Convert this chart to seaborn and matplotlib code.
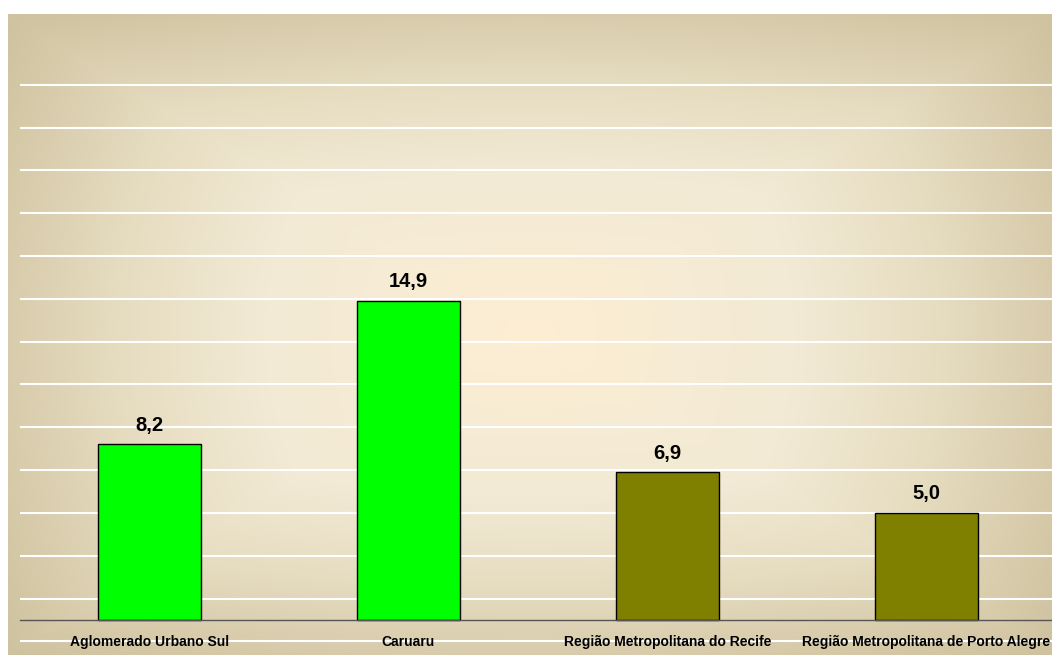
import numpy as np
import pandas as pd
import matplotlib
matplotlib.use("Agg")
import matplotlib.pyplot as plt
import seaborn as sns
from matplotlib.colors import LinearSegmentedColormap

categories = ["Aglomerado Urbano Sul", "Caruaru", "Região Metropolitana do Recife",
              "Região Metropolitana de Porto Alegre"]
values = [8.2, 14.9, 6.9, 5.0]
bar_colors = ["#00FF00", "#00FF00", "#808000", "#808000"]
value_labels = ["8,2", "14,9", "6,9", "5,0"]

sns.set_theme(style="white")
plt.rcParams['font.family'] = ['Liberation Sans', 'DejaVu Sans']

W, H = 1052, 655
fig = plt.figure(figsize=(W / 100, H / 100), dpi=100)
fig.patch.set_facecolor("white")

# background gradient panel
bx0, by0 = 8, 14
bg = fig.add_axes([bx0 / W, 0, 1 - bx0 / W, (H - by0) / H])
bg.set_axis_off()
ny, nx = 300, 500
yy, xx = np.mgrid[-1:1:ny * 1j, -1:1:nx * 1j]
d = np.maximum(np.abs(xx), np.abs(yy)) * 0.6 + np.sqrt(xx ** 2 + yy ** 2) / np.sqrt(2) * 0.4
cmap = LinearSegmentedColormap.from_list(
    "parch", [(0.0, "#FDEED3"), (0.45, "#F2EAD5"), (0.7, "#E6DCC0"), (1.0, "#CFC29F")])
bg.imshow(d, cmap=cmap, aspect="auto", extent=[0, 1, 0, 1], vmin=0, vmax=1,
          interpolation="bilinear")
bg.set_xlim(0, 1)
bg.set_ylim(0, 1)

# main axes
px = 21.41
base = 620
ax = fig.add_axes([20 / W, 0, 1036 / W, 1])
ax.patch.set_alpha(0)
df = pd.DataFrame({"cat": categories, "val": values})
sns.barplot(data=df, x="cat", y="val", hue="cat", palette=bar_colors, width=0.4,
            saturation=1, edgecolor="black", linewidth=1.0, legend=False, ax=ax, zorder=3)
ax.set_xlim(-0.5, 3.5)
ax.set_ylim(-(H - base) / px, base / px)
ax.set_yticks(np.arange(-1, 26, 2))
ax.set_yticklabels([])
ax.tick_params(axis="y", length=0)
ax.grid(axis="y", color="white", linewidth=1.5, zorder=0)
ax.set_axisbelow(True)
for s in ["left", "right", "top"]:
    ax.spines[s].set_visible(False)
ax.spines["bottom"].set_position(("data", 0))
ax.spines["bottom"].set_color("#555555")
ax.spines["bottom"].set_linewidth(1.0)
ax.spines["bottom"].set_zorder(4)
ax.set_xticks(np.arange(-0.5, 4, 1), minor=True)
ax.tick_params(axis="x", which="minor", length=4, direction="out", color="#555555", width=1)
ax.tick_params(axis="x", which="major", length=0, pad=11)
ax.set_xticks(range(len(categories)))
ax.set_xticklabels(categories, fontsize=10, fontweight="bold", color="black")
ax.xaxis.set_zorder(5)
ax.set_xlabel("")
ax.set_ylabel("")

bars = [p for c in ax.containers for p in c]
bars.sort(key=lambda p: p.get_x())
for p, lab in zip(bars, value_labels):
    ax.annotate(lab, (p.get_x() + p.get_width() / 2, p.get_height()),
                xytext=(0, 7), textcoords="offset points", ha="center", va="bottom",
                fontsize=14.5, fontweight="bold", color="black")

fig.savefig("out.png", dpi=100, facecolor="white")
